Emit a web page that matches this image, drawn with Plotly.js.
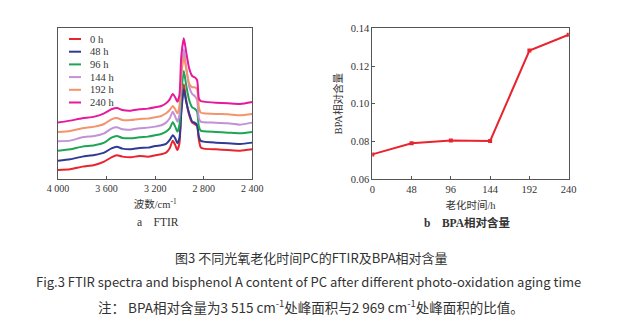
<!DOCTYPE html>
<html><head><meta charset="utf-8">
<script src="https://cdn.plot.ly/plotly-3.0.1.min.js"></script>
<style>html,body{margin:0;padding:0;background:#fff}#chart{width:633px;height:333px}</style>
</head><body><div id="chart"></div>
<script>
// FTIR spectra (arbitrary absorbance units, offset stacked as in the figure)
const wavenumber = [4000,3900,3800,3700,3620,3560,3515,3470,3400,3330,3260,3200,3150,3110,3080,3055,3035,3017,3000,2985,2964,2945,2920,2895,2875,2855,2840,2825,2800,2700,2600,2500,2400];
const seriesNames = ['0 h','48 h','96 h','144 h','192 h','240 h'];
const seriesColors = ['#e8242e','#2f3a92','#1ea456','#c291d8','#f4946c','#e5199a'];
const abs0h   = [0.28,0.30,0.38,0.43,0.53,0.66,0.72,0.68,0.66,0.70,0.68,0.72,0.75,0.80,0.93,1.16,1.03,0.88,1.08,2.08,2.85,2.38,1.93,1.70,1.66,1.60,1.18,0.96,0.92,0.90,0.88,0.86,0.90];
const abs48h  = [0.56,0.60,0.68,0.73,0.80,0.93,0.98,0.92,0.90,0.94,0.95,1.00,1.02,1.06,1.18,1.32,1.23,1.08,1.23,1.98,2.70,2.33,1.98,1.73,1.70,1.63,1.28,1.16,1.13,1.10,1.08,1.06,1.10];
const abs96h  = [0.86,0.90,0.98,1.02,1.10,1.25,1.30,1.24,1.23,1.26,1.28,1.32,1.36,1.43,1.53,1.71,1.58,1.43,1.63,2.58,3.25,2.83,2.38,2.16,2.12,2.03,1.58,1.46,1.44,1.42,1.40,1.38,1.42];
const abs144h = [1.14,1.16,1.26,1.30,1.38,1.52,1.56,1.50,1.49,1.53,1.55,1.58,1.62,1.70,1.83,2.03,1.88,1.73,1.93,3.08,3.90,3.38,2.78,2.56,2.50,2.38,1.83,1.73,1.71,1.70,1.68,1.64,1.70];
const abs192h = [1.42,1.45,1.53,1.58,1.66,1.80,1.84,1.78,1.78,1.81,1.82,1.86,1.90,1.98,2.08,2.20,2.10,1.98,2.20,3.08,3.68,3.33,2.88,2.76,2.76,2.70,2.16,2.00,1.98,1.96,1.95,1.92,1.96];
const abs240h = [1.70,1.76,1.83,1.88,1.98,2.10,2.14,2.08,2.06,2.10,2.12,2.16,2.20,2.28,2.40,2.56,2.46,2.33,2.53,3.68,4.23,3.83,3.33,3.10,3.06,2.98,2.43,2.35,2.33,2.30,2.28,2.26,2.32];
const spectra = [abs0h,abs48h,abs96h,abs144h,abs192h,abs240h];
const ftirTickVals = [4000,3600,3200,2800,2400];
const ftirTickText = ['4 000','3 600','3 200','2 800','2 400'];

// BPA relative content
const agingTime = [0,48,96,144,192,240];
const bpaContent = [0.0732,0.0791,0.0805,0.0803,0.1282,0.1366];

const W=633,H=333;
const px=v=>v/W, py=v=>1-v/H;
const serif='Liberation Serif, Times New Roman, Noto Sans CJK SC, serif';
const cjk='Noto Sans CJK SC, sans-serif';
const txt='#333';

const traces = spectra.map((y,i)=>({
  x: wavenumber, y: y, type:'scatter', mode:'lines', name: seriesNames[i],
  line:{color:seriesColors[i], width:2, shape:'spline', smoothing:0.6},
  xaxis:'x', yaxis:'y', showlegend:false, hoverinfo:'skip'
}));
traces.push({
  x: agingTime, y: bpaContent, type:'scatter', mode:'lines+markers', name:'BPA',
  line:{color:'#e8242e', width:2}, marker:{symbol:'square', size:4, color:'#e8242e'},
  xaxis:'x2', yaxis:'y2', showlegend:false
});

const axisCommon = {showline:true, mirror:true, linecolor:'#555', linewidth:1, ticks:'inside', ticklen:3, tickcolor:'#555', showgrid:false, zeroline:false};

// manual compact legend
const shapes=[], annotations=[];
seriesNames.forEach((n,i)=>{
  const yy = 39 + i*12.7;
  shapes.push({type:'line', xref:'paper', yref:'paper', x0:px(69), x1:px(81), y0:py(yy), y1:py(yy), line:{color:seriesColors[i], width:2}});
  annotations.push({xref:'paper', yref:'paper', x:px(87.5), y:py(yy), xanchor:'left', yanchor:'middle', text:n, showarrow:false, font:{family:serif, size:10.5, color:txt}});
});
annotations.push({xref:'paper', yref:'paper', x:px(158), y:py(222), text:'a\u3000FTIR', showarrow:false, font:{family:serif, size:11.5, color:txt}, xanchor:'center', yanchor:'middle'});
annotations.push({xref:'paper', yref:'paper', x:px(467), y:py(222), text:'<b>b\u3000BPA相对含量</b>', showarrow:false, font:{family:serif, size:11.5, color:txt}, xanchor:'center', yanchor:'middle'});
annotations.push({xref:'paper', yref:'paper', x:px(311), y:py(257), text:'图3 不同光氧老化时间PC的FTIR及BPA相对含量', showarrow:false, font:{family:cjk, size:13, color:txt}, xanchor:'center', yanchor:'middle'});
annotations.push({xref:'paper', yref:'paper', x:px(308), y:py(281), text:'Fig.3 FTIR spectra and bisphenol A content of PC after different photo-oxidation aging time', showarrow:false, font:{family:cjk, size:13, color:txt}, xanchor:'center', yanchor:'middle'});
annotations.push({xref:'paper', yref:'paper', x:px(311), y:py(306), text:'注\uff1a BPA相对含量为3 515 cm<sup>-1</sup>处峰面积与2 969 cm<sup>-1</sup>处峰面积的比值。', showarrow:false, font:{family:cjk, size:13.5, color:txt}, xanchor:'center', yanchor:'middle'});

const layout = {
  width:W, height:H, margin:{l:0,r:0,t:0,b:0}, paper_bgcolor:'#fff', plot_bgcolor:'#fff',
  showlegend:false,
  xaxis: Object.assign({}, axisCommon, {domain:[px(58),px(252.3)], range:[4000,2400], tickvals:ftirTickVals, ticktext:ftirTickText, tickfont:{family:serif, size:10, color:txt},
    title:{text:'波数/cm<sup>-1</sup>', font:{family:serif, size:10.5, color:txt}, standoff:7}, anchor:'y'}),
  yaxis: Object.assign({}, axisCommon, {domain:[py(179.3),py(28.3)], range:[0,4.53], ticks:'', showticklabels:false, anchor:'x'}),
  xaxis2: Object.assign({}, axisCommon, {domain:[px(372.3),px(568.7)], range:[0,240], tickvals:agingTime, tickfont:{family:serif, size:10.5, color:txt},
    title:{text:'老化时间/h', font:{family:serif, size:10.5, color:txt}, standoff:7}, anchor:'y2'}),
  yaxis2: Object.assign({}, axisCommon, {domain:[py(179.3),py(28.3)], range:[0.06,0.14], dtick:0.02, tick0:0.06, tickformat:'.2f', tickfont:{family:serif, size:10.5, color:txt},
    title:{text:'BPA相对含量', font:{family:serif, size:10.5, color:txt}, standoff:6}, anchor:'x2'}),
  shapes: shapes, annotations: annotations
};
Plotly.newPlot('chart', traces, layout, {staticPlot:true, displayModeBar:false});
</script></body></html>
